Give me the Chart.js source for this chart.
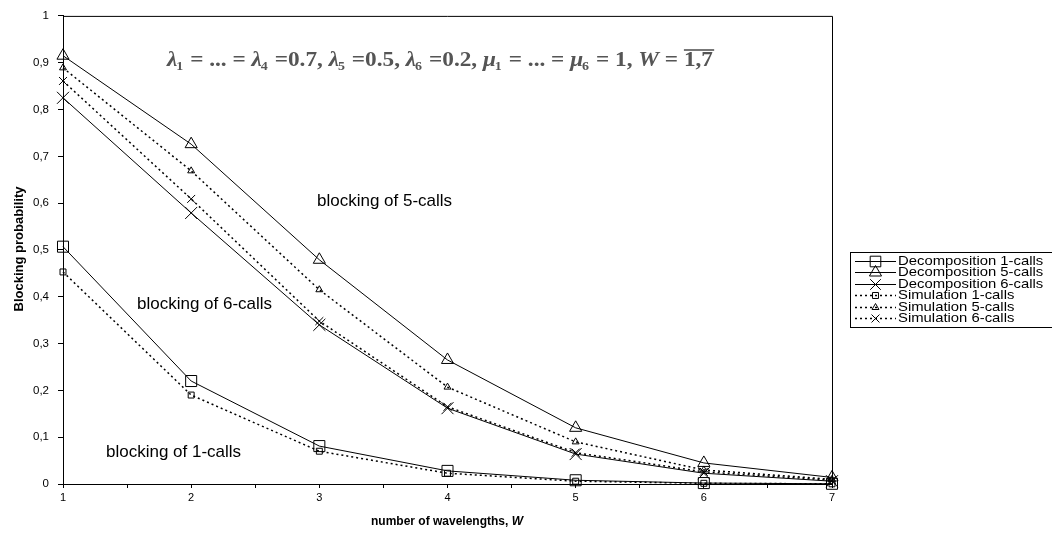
<!DOCTYPE html>
<html><head><meta charset="utf-8">
<script src="https://cdn.jsdelivr.net/npm/chart.js@4.4.0/dist/chart.umd.min.js"></script>
<style>html,body{margin:0;padding:0;background:#fff;overflow:hidden}canvas{display:block}</style>
</head><body>
<canvas id="c" width="1052" height="541"></canvas>
<script>
// ---- data ----
const wavelengths = [1, 2, 3, 4, 5, 6, 7];
const decomp1 = [0.507, 0.220, 0.081, 0.028, 0.008, 0.002, 0.0005];
const decomp5 = [0.915, 0.726, 0.479, 0.265, 0.120, 0.045, 0.014];
const decomp6 = [0.825, 0.579, 0.340, 0.162, 0.064, 0.023, 0.006];
const sim1    = [0.453, 0.190, 0.070, 0.023, 0.006, 0.0015, 0.0004];
const sim5    = [0.889, 0.669, 0.415, 0.207, 0.090, 0.030, 0.010];
const sim6    = [0.861, 0.609, 0.348, 0.165, 0.067, 0.026, 0.008];
const seriesNames = ["Decomposition 1-calls","Decomposition 5-calls","Decomposition 6-calls","Simulation 1-calls","Simulation 5-calls","Simulation 6-calls"];
const annotations = [
  {text:"blocking of 5-calls", x:317, y:201},
  {text:"blocking of 6-calls", x:137, y:304},
  {text:"blocking of 1-calls", x:106, y:452}
];
const xTitle = "number of wavelengths, ";
const xTitleItalic = "W";
const yTitle = "Blocking probability";

const pts = arr => wavelengths.map((w,i)=>({x:w, y:arr[i]}));

function ds(label, arr, style, radius, dotted){
  return {
    label, data: pts(arr),
    borderColor:'#000', borderWidth: dotted?1.5:1,
    borderDash: dotted?[2,3]:[],
    pointStyle: style, pointRadius: radius, pointHoverRadius: radius,
    pointBorderColor:'#000', pointBackgroundColor:'rgba(0,0,0,0)', pointBorderWidth:1,
    fill:false, tension:0, clip:false
  };
}

const datasets = [
  ds(seriesNames[0], decomp1, 'rect', 7.8, false),
  ds(seriesNames[1], decomp5, 'triangle', 7, false),
  ds(seriesNames[2], decomp6, 'crossRot', 8.5, false),
  ds(seriesNames[3], sim1, 'rect', 4.2, true),
  ds(seriesNames[4], sim5, 'triangle', 4, true),
  ds(seriesNames[5], sim6, 'crossRot', 5.6, true)
];

const FONT = '"Liberation Sans", Arial, sans-serif';

const decor = {
  id:'decor',
  afterDraw(chart){
    const ctx = chart.ctx, a = chart.chartArea;
    ctx.save();
    ctx.strokeStyle='#000'; ctx.lineWidth=1;
    ctx.beginPath();
    ctx.moveTo(a.left, a.top+0.5); ctx.lineTo(a.right+0.5, a.top+0.5); ctx.lineTo(a.right+0.5, a.bottom);
    ctx.stroke();
    ctx.fillStyle='#000'; ctx.font='17px '+FONT; ctx.textBaseline='middle'; ctx.textAlign='left';
    annotations.forEach(t=>ctx.fillText(t.text, t.x, t.y));
    ctx.font='bold 13px '+FONT; ctx.textAlign='center';
    ctx.save(); ctx.translate(19, 249); ctx.rotate(-Math.PI/2); ctx.fillText(yTitle, 0, 0); ctx.restore();
    ctx.font='bold 12px '+FONT;
    const w1 = ctx.measureText(xTitle).width;
    ctx.font='bold italic 12px '+FONT;
    const w2 = ctx.measureText(xTitleItalic).width;
    let sx = 447 - (w1+w2)/2;
    ctx.textAlign='left';
    ctx.font='bold 12px '+FONT; ctx.fillText(xTitle, sx, 522);
    ctx.font='bold italic 12px '+FONT; ctx.fillText(xTitleItalic, sx+w1, 522);
    drawFormula(ctx);
    drawLegend(chart);
    ctx.restore();
  }
};

function drawFormula(ctx){
  const parts = [
    ['λ','1',true],[' = ... = '],['λ','4',true],[' =0.7, '],['λ','5',true],[' =0.5, '],['λ','6',true],[' =0.2, '],
    ['μ','1',true],[' = ... = '],['μ','6',true],[' = 1, '],['W','',true],[' = '],['1,7','',false,true]
  ];
  const base = 20;
  const fam = '"Liberation Serif", "DejaVu Serif", serif';
  const fMain = (s,it) => (it?'italic ':'')+'bold '+s+'px '+fam;
  const fSub = s => 'bold '+(s*0.6)+'px '+fam;
  function widthAt(s){
    let w=0;
    parts.forEach(p=>{ ctx.font=fMain(s,p[2]); w+=ctx.measureText(p[0]).width; if(p[1]){ctx.font=fSub(s); w+=ctx.measureText(p[1]).width;} });
    return w;
  }
  const target = 546;
  const sc = target/widthAt(base);
  ctx.save();
  ctx.translate(167, 61); ctx.scale(sc, 1);
  ctx.filter='blur(0.5px)';
  ctx.fillStyle='#555'; ctx.strokeStyle='#555'; ctx.textBaseline='middle'; ctx.textAlign='left';
  let cx = 0;
  parts.forEach(p=>{
    ctx.font=fMain(base,p[2]);
    const w = ctx.measureText(p[0]).width;
    ctx.fillText(p[0], cx, 0);
    if(p[3]){ ctx.lineWidth=1.6; ctx.beginPath(); ctx.moveTo(cx, -11); ctx.lineTo(cx+w+1, -11); ctx.stroke(); }
    cx += w;
    if(p[1]){ ctx.font=fSub(base); ctx.fillText(p[1], cx-1, 6); cx += ctx.measureText(p[1]).width; }
  });
  ctx.restore();
}

function drawLegend(chart){
  const ctx = chart.ctx;
  const left=850, top=252, bottom=327, right=1060;
  ctx.save();
  ctx.strokeStyle='#000'; ctx.lineWidth=1;
  ctx.strokeRect(left+0.5, top+0.5, right-left, bottom-top);
  const n = chart.data.datasets.length;
  const step = (bottom-top-6)/n;
  ctx.textBaseline='middle'; ctx.textAlign='left'; ctx.fillStyle='#000';
  chart.data.datasets.forEach((d,i)=>{
    const y = Math.round(top + 3 + step*(i+0.5)) + 0.5;
    ctx.save();
    ctx.strokeStyle='#000'; ctx.lineWidth=d.borderWidth; ctx.setLineDash(d.borderDash||[]);
    ctx.beginPath(); ctx.moveTo(855, y); ctx.lineTo(896, y); ctx.stroke();
    ctx.setLineDash([]); ctx.lineWidth=1; ctx.fillStyle='rgba(0,0,0,0)';
    const r = Math.min(d.pointRadius, 7.5);
    if (Chart.helpers && Chart.helpers.drawPoint) {
      Chart.helpers.drawPoint(ctx, {pointStyle:d.pointStyle, radius:r, rotation:0, borderWidth:1}, 875.5, y);
    }
    ctx.restore();
    ctx.save();
    ctx.font='13.5px '+FONT; ctx.fillStyle='#000'; ctx.textBaseline='middle';
    ctx.translate(898, y); ctx.scale(1.1, 1);
    ctx.fillText(d.label, 0, 0);
    ctx.restore();
  });
  ctx.restore();
}

new Chart(document.getElementById('c'), {
  type:'line',
  data:{ datasets },
  options:{
    responsive:false, animation:false, devicePixelRatio:1,
    layout:{ padding:{ left:0, top:15, right:220, bottom:0 } },
    plugins:{ legend:{display:false}, tooltip:{enabled:false} },
    scales:{
      x:{
        type:'linear', min:1, max:7,
        afterFit(s){ s.height = 57; },
        afterBuildTicks(s){ const t=[]; for(let v=1; v<=7.001; v+=0.5) t.push({value:v}); s.ticks=t; },
        ticks:{ autoSkip:false, maxRotation:0, padding:3, color:'#000', font:{family:FONT, size:11},
          callback:v=> Number.isInteger(v)? String(v) : '' },
        grid:{ display:true, drawOnChartArea:false, drawTicks:true, tickLength:4, color:'#000' },
        border:{ display:true, color:'#000', width:1 }
      },
      y:{
        min:0, max:1,
        afterFit(s){ s.width = 63; },
        ticks:{ stepSize:0.1, padding:9, color:'#000', font:{family:FONT, size:11.5},
          callback:v=> (Math.round(v*10)/10).toString().replace('.',',') },
        grid:{ display:true, drawOnChartArea:false, drawTicks:true, tickLength:5, color:'#000' },
        border:{ display:true, color:'#000', width:1 }
      }
    }
  },
  plugins:[decor]
});
</script>
</body></html>
